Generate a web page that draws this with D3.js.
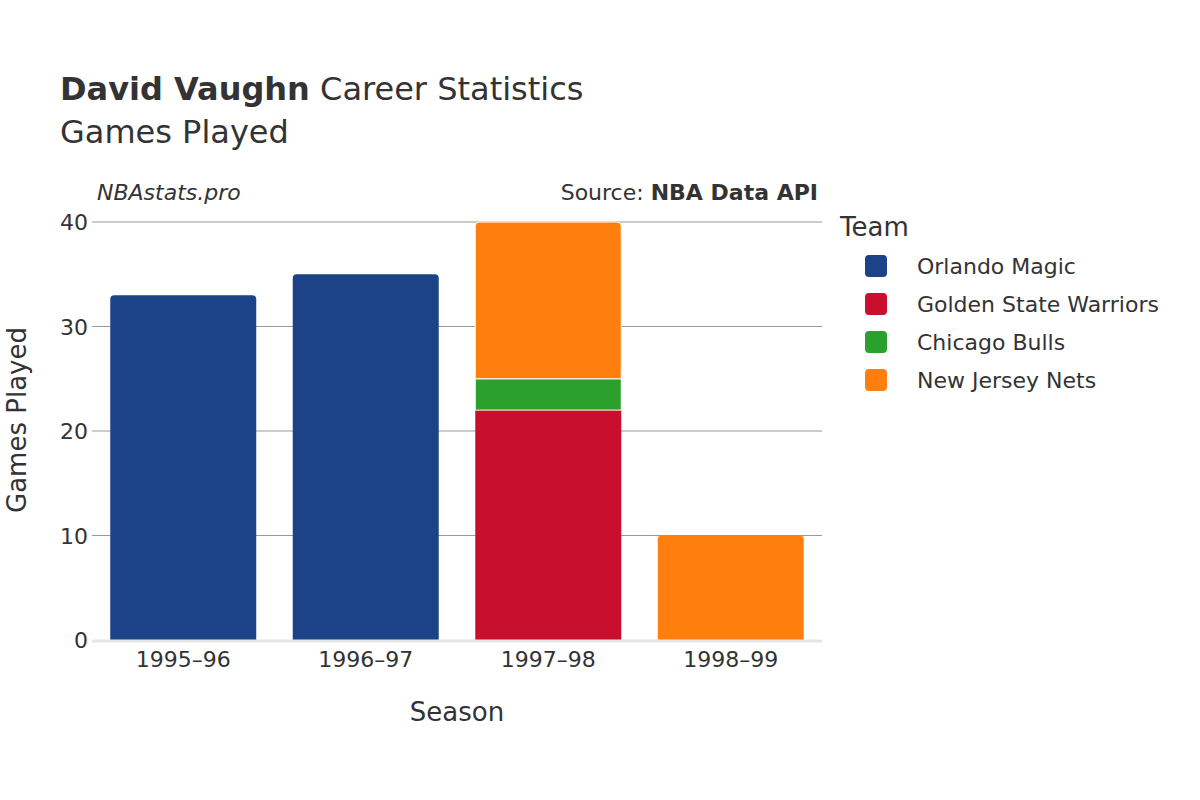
<!DOCTYPE html>
<html><head><meta charset="utf-8">
<script src="https://cdn.jsdelivr.net/npm/d3@7"></script>
<style>body{margin:0;background:#fff}text{font-family:"DejaVu Sans",sans-serif;fill:#333}</style>
</head><body><svg id="c" width="1200" height="800"></svg>
<script>
const seasons=["1995–96","1996–97","1997–98","1998–99"];
const teams=["Orlando Magic","Golden State Warriors","Chicago Bulls","New Jersey Nets"];
const colors=["#1c4387","#c8102e","#2ca02c","#ff7f0e"];
const orlando=[33,35,0,0];
const gsw=[0,0,22,0];
const chicago=[0,0,3,0];
const njn=[0,0,15,10];
const yTicks=[0,10,20,30,40];
const series=[orlando,gsw,chicago,njn];

const svg=d3.select("#c");
const L=92,R=822,T=222,B=640;
const x=d3.scaleBand().domain(seasons).range([L,R]).paddingInner(0.2).paddingOuter(0.1);
const y=d3.scaleLinear().domain([0,40]).range([B,T]);

svg.append("g").selectAll("line").data(yTicks.slice(1)).join("line")
 .attr("x1",L).attr("x2",R).attr("y1",d=>y(d)).attr("y2",d=>y(d)).attr("stroke","#999").attr("stroke-width",1);
svg.append("g").selectAll("text").data(yTicks).join("text")
 .attr("x",L-4).attr("y",d=>y(d)+8).attr("text-anchor","end").attr("font-size",22).text(d=>d);

seasons.forEach((s,i)=>{
 let base=0;
 const segs=[];
 series.forEach((arr,k)=>{if(arr[i]>0){segs.push({k,v0:base,v1:base+arr[i]});base+=arr[i];}});
 segs.forEach((sg,j)=>{
  const x0=x(s),w=x.bandwidth(),yt=y(sg.v1),yb=y(sg.v0),r=(j===segs.length-1)?4:0;
  const p=`M${x0},${yb}L${x0},${yt+r}Q${x0},${yt} ${x0+r},${yt}L${x0+w-r},${yt}Q${x0+w},${yt} ${x0+w},${yt+r}L${x0+w},${yb}Z`;
  svg.append("path").attr("d",p).attr("fill",colors[sg.k]).attr("stroke","#fff").attr("stroke-width",j>0?1:0);
 });
});
svg.append("line").attr("x1",L).attr("x2",R).attr("y1",B+1).attr("y2",B+1).attr("stroke","#e5e5e5").attr("stroke-width",3);
svg.append("g").selectAll("text").data(seasons).join("text")
 .attr("x",d=>x(d)+x.bandwidth()/2).attr("y",667).attr("text-anchor","middle").attr("font-size",22).text(d=>d);

svg.append("text").attr("x",457).attr("y",721).attr("text-anchor","middle").attr("font-size",26).text("Season");
svg.append("text").attr("transform","translate(26,420) rotate(-90)").attr("text-anchor","middle").attr("font-size",26).text("Games Played");

const t=svg.append("text").attr("x",60).attr("y",100).attr("font-size",32);
t.append("tspan").attr("font-weight","bold").text("David Vaughn");
t.append("tspan").text(" Career Statistics");
svg.append("text").attr("x",60).attr("y",143).attr("font-size",32).text("Games Played");
svg.append("text").attr("x",97).attr("y",200).attr("font-size",22).attr("font-style","italic").text("NBAstats.pro");
const s2=svg.append("text").attr("x",818).attr("y",200).attr("font-size",22).attr("text-anchor","end");
s2.append("tspan").text("Source: ");
s2.append("tspan").attr("font-weight","bold").text("NBA Data API");

svg.append("text").attr("x",840).attr("y",236).attr("font-size",26).text("Team");
const lg=svg.append("g").selectAll("g").data(teams).join("g").attr("transform",(d,i)=>`translate(865,${266+i*38})`);
lg.append("rect").attr("x",0).attr("y",-11).attr("width",22).attr("height",22).attr("rx",4).attr("fill",(d,i)=>colors[i]);
lg.append("text").attr("x",52).attr("y",8).attr("font-size",22).text(d=>d);
</script></body></html>
